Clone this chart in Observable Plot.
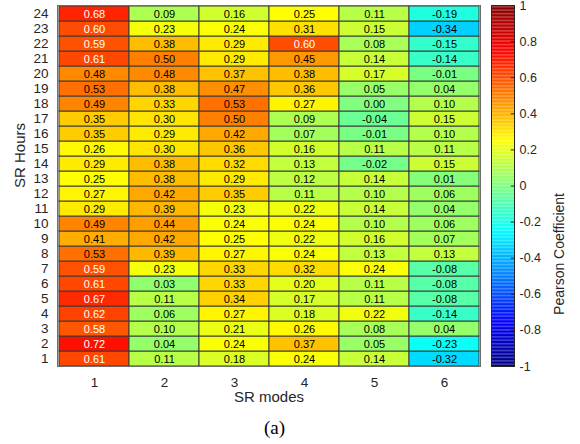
<!DOCTYPE html>
<html>
<head>
<meta charset="utf-8">
<script src="https://cdn.jsdelivr.net/npm/d3@7"></script>
<script src="https://cdn.jsdelivr.net/npm/@observablehq/plot@0.6"></script>
<style>
  body { margin: 0; background: #fff; }
  #wrap { position: relative; width: 580px; height: 444px; font-family: "Liberation Sans", Arial, sans-serif; }
  #heat, #cbar { position: absolute; top: 0; }
  #heat { left: 0; }
  #cbar { left: 480px; }
  #cap { position: absolute; left: 0; width: 549px; top: 417px; line-height: 22px; text-align: center; font-family: "Liberation Serif", "Times New Roman", serif; font-size: 19px; color: #000; }
</style>
</head>
<body>
<div id="wrap">
  <div id="heat"></div>
  <div id="cbar"></div>
  <div id="cap">(a)</div>
</div>
<script>
const modes = [1, 2, 3, 4, 5, 6];
const hours = [1, 2, 3, 4, 5, 6, 7, 8, 9, 10, 11, 12, 13, 14, 15, 16, 17, 18, 19, 20, 21, 22, 23, 24];
// values per SR mode, listed for SR hours 1..24
const mode1 = [0.61,0.72,0.58,0.62,0.67,0.61,0.59,0.53,0.41,0.49,0.29,0.27,0.25,0.29,0.26,0.35,0.35,0.49,0.53,0.48,0.61,0.59,0.60,0.68];
const mode2 = [0.11,0.04,0.10,0.06,0.11,0.03,0.23,0.39,0.42,0.44,0.39,0.42,0.38,0.38,0.30,0.29,0.30,0.33,0.38,0.48,0.50,0.38,0.23,0.09];
const mode3 = [0.18,0.24,0.21,0.27,0.34,0.33,0.33,0.27,0.25,0.24,0.23,0.35,0.29,0.32,0.36,0.42,0.50,0.53,0.47,0.37,0.29,0.29,0.24,0.16];
const mode4 = [0.24,0.37,0.26,0.18,0.17,0.20,0.32,0.24,0.22,0.24,0.22,0.11,0.12,0.13,0.16,0.07,0.09,0.27,0.36,0.38,0.45,0.60,0.31,0.25];
const mode5 = [0.14,0.05,0.08,0.22,0.11,0.11,0.24,0.13,0.16,0.10,0.14,0.10,0.14,-0.02,0.11,-0.01,-0.04,0.00,0.05,0.17,0.14,0.08,0.15,0.11];
const mode6 = [-0.32,-0.23,0.04,-0.14,-0.08,-0.08,-0.08,0.13,0.07,0.06,0.04,0.06,0.01,0.15,0.11,0.10,0.15,0.10,0.04,-0.01,-0.14,-0.15,-0.34,-0.19];
const colorbarTicks = [-1, -0.8, -0.6, -0.4, -0.2, 0, 0.2, 0.4, 0.6, 0.8, 1];

const series = [mode1, mode2, mode3, mode4, mode5, mode6];
const data = [];
modes.forEach((m, i) => hours.forEach((h, j) => data.push({mode: m, hour: h, v: series[i][j]})));

function jet(t) {
  const c = x => Math.max(0, Math.min(1, x));
  const r = c(1.5 - Math.abs(4 * t - 3));
  const g = c(1.5 - Math.abs(4 * t - 2));
  const b = c(1.5 - Math.abs(4 * t - 1));
  return d3.rgb(r * 255, g * 255, b * 255).formatHex();
}
const vColor = v => jet((v + 1) / 2);
const ink = "#262626";

const heat = Plot.plot({
  width: 580,
  height: 420,
  marginLeft: 57,
  marginRight: 100,
  marginTop: 5,
  marginBottom: 54,
  style: {fontFamily: "'Liberation Sans', Arial, sans-serif", fontSize: "13.5px", color: ink, background: "#fff"},
  x: {type: "band", domain: modes, padding: 0, label: null},
  y: {type: "band", domain: hours.slice().reverse(), padding: 0, label: null},
  color: {type: "identity"},
  marks: [
    Plot.cell(data, {x: "mode", y: "hour", fill: d => vColor(d.v), stroke: "#3a3a3a", strokeWidth: 1, inset: 0}),
    Plot.text(data, {x: "mode", y: "hour", text: d => d.v.toFixed(2), fontSize: 11, fill: d => d.v > 0.55 ? "#ffffff" : "#000000"}),
    Plot.frame({stroke: "#6e6e6e", strokeWidth: 1}),
    Plot.axisX({anchor: "bottom", tickSize: 0, tickPadding: 10.5, label: null, fontSize: 13.5}),
    Plot.axisY({anchor: "left", tickSize: 0, tickPadding: 9, label: null, fontSize: 13.5}),
    Plot.text(["SR modes"], {frameAnchor: "bottom", dy: 35, fontSize: 15, fill: ink}),
    Plot.text(["SR Hours"], {frameAnchor: "left", dx: -37, dy: 2, rotate: -90, fontSize: 15, fill: ink})
  ]
});
document.getElementById("heat").appendChild(heat);

const N = 256;
const steps = d3.range(N);
const cbar = Plot.plot({
  width: 100,
  height: 420,
  marginLeft: 11,
  marginRight: 66,
  marginTop: 5,
  marginBottom: 54,
  style: {fontFamily: "'Liberation Sans', Arial, sans-serif", fontSize: "13px", color: ink, background: "transparent", overflow: "visible"},
  x: {domain: [0, 1], axis: null},
  y: {domain: [-1, 1], axis: null},
  color: {type: "identity"},
  marks: [
    Plot.rect(steps, {x1: 0, x2: 1, y1: i => -1 + i * 2 / N, y2: i => -1 + (i + 1) * 2 / N, fill: i => vColor(-1 + (i + 0.5) * 2 / N), inset: 0}),
    Plot.ruleY(colorbarTicks, {y: d => d, x1: 0.86, x2: 1, stroke: ink, strokeWidth: 1}),
    Plot.frame({stroke: ink, strokeWidth: 1}),
    Plot.axisY(colorbarTicks, {anchor: "right", tickSize: 0, tickPadding: 5, fontSize: 12.5, label: null, tickFormat: d => String(Math.round(d * 10) / 10)}),
    Plot.text(["Pearson Coefficient"], {frameAnchor: "right", dx: 45, dy: 7, rotate: -90, fontSize: 14, fill: ink})
  ]
});
document.getElementById("cbar").appendChild(cbar);
</script>
</body>
</html>
